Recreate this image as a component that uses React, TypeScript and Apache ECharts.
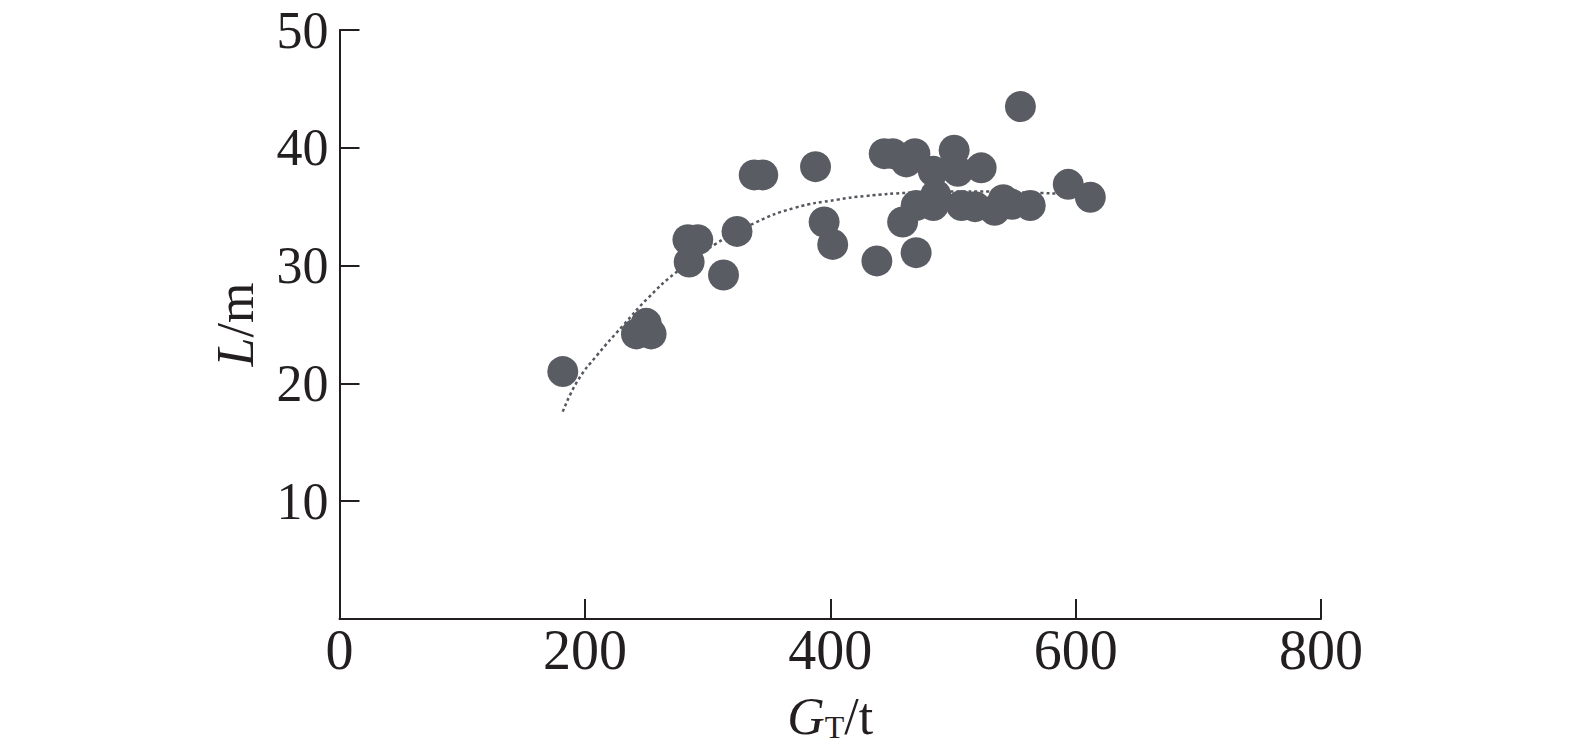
import React, { useEffect, useRef } from "react";
import * as echarts from "echarts";

const xTicks = [0, 200, 400, 600, 800];
const yTicks = [0, 10, 20, 30, 40, 50];

const pointsGT = [
  182, 242, 250, 254, 284, 292, 285, 313, 324, 338, 345, 388, 395, 402, 438,
  444, 451, 462, 469, 484, 501, 504, 523, 555, 459, 470, 470, 484, 486, 507,
  518, 534, 541, 548, 563, 594, 612,
];
const pointsL = [
  21.0, 24.2, 25.1, 24.2, 32.2, 32.2, 30.3, 29.2, 32.9, 37.7, 37.7, 38.4, 33.7,
  31.8, 30.4, 39.5, 39.5, 38.8, 39.5, 38.0, 39.8, 38.0, 38.3, 43.5, 33.7, 31.1,
  35.1, 35.1, 36.0, 35.1, 35.0, 34.7, 35.6, 35.2, 35.1, 36.9, 35.8,
];

const fitGT = [182, 194, 210, 231, 251, 274, 306, 338, 371, 406, 428, 466, 500, 530, 560, 590];
const fitL = [17.6, 20.2, 22.4, 24.9, 27.2, 29.4, 31.8, 33.6, 34.9, 35.6, 35.9, 36.2, 36.3, 36.3, 36.2, 36.1];

const FONT = "'Liberation Serif', 'Times New Roman', serif";
const AXIS_COLOR = "#231f20";
const POINT_COLOR = "#595c62";

export default function App() {
  const ref = useRef<HTMLDivElement>(null);

  useEffect(() => {
    document.body.style.margin = "0";
    if (!ref.current) return;
    const chart = echarts.init(ref.current, undefined, { renderer: "svg" });
    const scatterData = pointsGT.map((x, i) => [x, pointsL[i]]);
    const fitData = fitGT.map((x, i) => [x, fitL[i]]);
    chart.setOption({
      animation: false,
      backgroundColor: "#ffffff",
      grid: { left: 339.5, right: 254, top: 30, bottom: 126, containLabel: false },
      xAxis: {
        type: "value",
        min: xTicks[0],
        max: xTicks[xTicks.length - 1],
        interval: 200,
        name: "{i|G}{sub|T}{n|/t}",
        nameLocation: "middle",
        nameGap: 70,
        nameTextStyle: {
          rich: {
            i: { fontFamily: FONT, fontStyle: "italic", fontSize: 52, color: AXIS_COLOR },
            sub: { fontFamily: FONT, fontSize: 32, color: AXIS_COLOR, padding: [22, 0, 0, 0] },
            n: { fontFamily: FONT, fontSize: 52, color: AXIS_COLOR },
          },
        },
        axisLine: { show: true, lineStyle: { color: AXIS_COLOR, width: 2 } },
        axisTick: { show: true, inside: true, length: 20, lineStyle: { color: AXIS_COLOR, width: 2 } },
        axisLabel: { fontFamily: FONT, fontSize: 56, color: AXIS_COLOR, margin: 3 },
        splitLine: { show: false },
      },
      yAxis: {
        type: "value",
        min: yTicks[0],
        max: yTicks[yTicks.length - 1],
        interval: 10,
        name: "{i|L}{n|/m}",
        nameLocation: "middle",
        nameRotate: 90,
        nameGap: 78,
        nameTextStyle: {
          rich: {
            i: { fontFamily: FONT, fontStyle: "italic", fontSize: 52, color: AXIS_COLOR },
            n: { fontFamily: FONT, fontSize: 52, color: AXIS_COLOR },
          },
        },
        axisLine: { show: true, lineStyle: { color: AXIS_COLOR, width: 2 } },
        axisTick: { show: true, inside: true, length: 20, lineStyle: { color: AXIS_COLOR, width: 2 } },
        axisLabel: {
          fontFamily: FONT,
          fontSize: 52,
          color: AXIS_COLOR,
          margin: 11,
          formatter: (v: number) => (v === 0 ? "" : String(v)),
        },
        splitLine: { show: false },
      },
      series: [
        {
          type: "line",
          data: fitData,
          smooth: true,
          showSymbol: false,
          symbol: "none",
          lineStyle: { color: "#55585e", width: 2.5, type: [3, 3] },
          z: 1,
        },
        {
          type: "scatter",
          data: scatterData,
          symbol: "circle",
          symbolSize: 31,
          itemStyle: { color: POINT_COLOR, opacity: 1 },
          z: 2,
        },
      ],
    });
    return () => chart.dispose();
  }, []);

  return <div ref={ref} style={{ width: 1575, height: 748 }} />;
}
